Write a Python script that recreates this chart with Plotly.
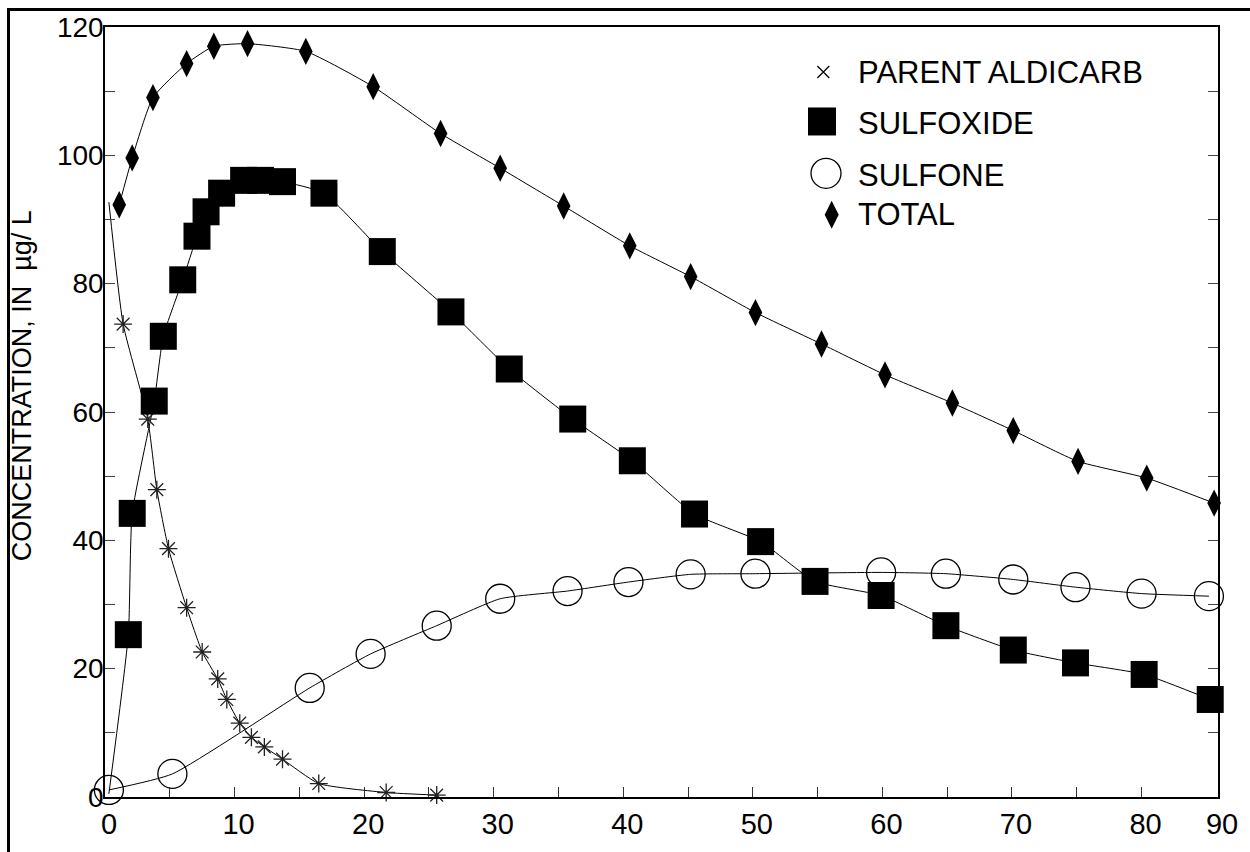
import plotly.graph_objects as go

# Time since application (days) and concentration (ug/L) for each compound
parent_days = [0.3, 1.4, 3.3, 4.0, 4.9, 6.3, 7.5, 8.7, 9.4, 10.4, 11.3, 12.3, 13.7, 16.5, 21.7, 25.6]
parent_conc = [92.7, 73.7, 58.9, 47.9, 38.7, 29.5, 22.6, 18.4, 15.2, 11.5, 9.3, 7.8, 5.9, 2.1, 0.7, 0.3]

sulfoxide_days = [0.3, 1.8, 2.1, 3.8, 4.5, 6.0, 7.1, 7.8, 9.0, 10.7, 12.0, 13.7, 16.9, 21.4,
                  26.7, 31.2, 36.1, 40.7, 45.5, 50.6, 54.8, 59.9, 64.9, 70.1, 74.9, 80.2, 85.3]
sulfoxide_conc = [0.5, 25.3, 44.2, 61.7, 71.8, 80.6, 87.4, 91.2, 94.1, 96.1, 96.1, 95.9, 94.1, 85.0,
                  75.6, 66.7, 58.9, 52.4, 44.1, 39.8, 33.6, 31.4, 26.7, 22.9, 20.9, 19.1, 15.2]

sulfone_days = [0.3, 5.2, 15.8, 20.5, 25.6, 30.5, 35.7, 40.4, 45.2, 50.2, 59.9, 64.9, 70.1, 74.9, 80.0, 85.2]
sulfone_conc = [1.1, 3.6, 17.0, 22.3, 26.7, 30.9, 32.1, 33.5, 34.7, 34.8, 35.0, 34.8, 33.9, 32.7, 31.7, 31.3]

total_days = [1.1, 2.1, 3.7, 6.3, 8.4, 11.0, 15.5, 20.7, 25.9, 30.5, 35.4, 40.5, 45.2, 50.2, 55.3,
              60.2, 65.4, 70.1, 75.1, 80.4, 85.6]
total_conc = [92.3, 99.6, 109.0, 114.3, 117.0, 117.4, 116.2, 110.7, 103.4, 98.0, 92.1, 85.9, 81.1,
              75.5, 70.6, 65.8, 61.4, 57.1, 52.3, 49.7, 45.8]

x_tick_vals = [0, 10, 20, 30, 40, 50, 60, 70, 80]
x_tick_text = ["0", "10", "20", "30", "40", "50", "60", "70", "80"]
x_end = 85.9          # right end of the time axis, labelled "90"
x_end_label = "90"
y_max = 120

series_names = ["PARENT ALDICARB", "SULFOXIDE", "SULFONE", "TOTAL"]

FONT = "Liberation Sans, Arial, sans-serif"
LINE = dict(color="black", width=1, shape="spline", smoothing=0.5)

fig = go.Figure()

# Smoothed curves
for xs, ys in [(parent_days, parent_conc), (sulfoxide_days, sulfoxide_conc),
               (sulfone_days, sulfone_conc), (total_days, total_conc)]:
    fig.add_trace(go.Scatter(x=xs, y=ys, mode="lines", line=LINE,
                             showlegend=False, hoverinfo="skip", cliponaxis=False))

# Observation markers (first parent / sulfoxide value is the curve origin only)
fig.add_trace(go.Scatter(x=parent_days[1:], y=parent_conc[1:], mode="markers",
                         name=series_names[0], cliponaxis=False, showlegend=False,
                         marker=dict(symbol="asterisk-open", size=15, color="#222",
                                     line=dict(color="#222", width=1.3))))
fig.add_trace(go.Scatter(x=sulfoxide_days[1:], y=sulfoxide_conc[1:], mode="markers",
                         name=series_names[1], cliponaxis=False, showlegend=False,
                         marker=dict(symbol="square", size=27, color="black")))
fig.add_trace(go.Scatter(x=sulfone_days, y=sulfone_conc, mode="markers",
                         name=series_names[2], cliponaxis=False, showlegend=False,
                         marker=dict(symbol="circle-open", size=29, color="black",
                                     line=dict(color="black", width=1.3))))
fig.add_trace(go.Scatter(x=total_days, y=total_conc, mode="markers",
                         name=series_names[3], cliponaxis=False, showlegend=False,
                         marker=dict(symbol="diamond-tall", size=19.5, color="black")))

# Key: symbols on an overlay axis spanning the plot area, labels as annotations
key_x = [0.6454, 0.6442, 0.6478, 0.6529]
key_y = [0.9415, 0.8773, 0.8100, 0.7563]
key_text_y = [0.9415, 0.8741, 0.8068, 0.7559]
key_text_x = 0.6748
key_markers = [
    dict(symbol="x-thin-open", size=12, color="black", line=dict(color="black", width=1.2)),
    dict(symbol="square", size=28, color="black"),
    dict(symbol="circle-open", size=30, color="black", line=dict(color="black", width=1.3)),
    dict(symbol="diamond-tall", size=20, color="black"),
]
for kx, ky, mk in zip(key_x, key_y, key_markers):
    fig.add_trace(go.Scatter(x=[kx], y=[ky], mode="markers", marker=mk, xaxis="x2", yaxis="y2",
                             showlegend=False, hoverinfo="skip", cliponaxis=False))
for name, ty in zip(series_names, key_text_y):
    fig.add_annotation(x=key_text_x, y=ty, xref="paper", yref="paper", text=name,
                       showarrow=False, xanchor="left", yanchor="middle",
                       font=dict(family=FONT, size=31, color="black"))

# Y axis title
fig.add_annotation(x=-0.0746, y=0.5346, xref="paper", yref="paper",
                   text="CONCENTRATION, IN  \u00b5g/ L", textangle=-90, showarrow=False,
                   xanchor="center", yanchor="middle",
                   font=dict(family=FONT, size=27, color="black"))

# Outer frame
fig.add_shape(type="rect", xref="paper", yref="paper",
              x0=-0.0867, x1=1.05, y0=-0.1, y1=1.0227,
              line=dict(color="black", width=3), fillcolor="rgba(0,0,0,0)", layer="above")

fig.update_layout(
    width=1250, height=852,
    margin=dict(l=105, r=32, t=27, b=33),
    paper_bgcolor="white", plot_bgcolor="white",
    font=dict(family=FONT, color="black"),
    showlegend=False,
    xaxis=dict(
        range=[0, x_end], showgrid=False, zeroline=False,
        showline=True, linecolor="black", linewidth=1.5, mirror=True,
        tickmode="array", tickvals=x_tick_vals + [x_end], ticktext=x_tick_text + [x_end_label],
        ticks="inside", ticklen=10, tickwidth=1, tickcolor="#333",
        tickfont=dict(family=FONT, size=29, color="black"), ticklabelshift=4,
        minor=dict(tickvals=[5, 15, 25, 35, 45, 55, 65, 75], ticks="inside", ticklen=10,
                   tickwidth=1, tickcolor="#333"),
    ),
    yaxis=dict(
        range=[0, y_max], showgrid=False, zeroline=False,
        showline=True, linecolor="black", linewidth=1.5, mirror="ticks",
        tickmode="linear", tick0=0, dtick=20,
        ticks="inside", ticklen=10, tickwidth=1, tickcolor="#444",
        tickfont=dict(family=FONT, size=28, color="black"), ticklabelstandoff=-6,
        minor=dict(dtick=10, ticks="inside", ticklen=10, tickwidth=1, tickcolor="#444"),
    ),
    xaxis2=dict(overlaying="x", range=[0, 1], visible=False, anchor="y2"),
    yaxis2=dict(overlaying="y", range=[0, 1], visible=False, anchor="x2"),
)

fig.write_html("out.html")
